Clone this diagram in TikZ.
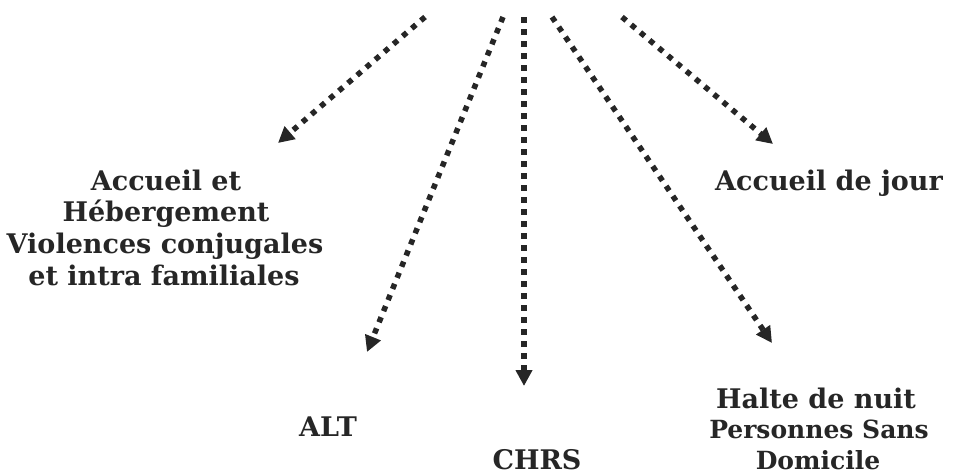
\documentclass[tikz,border=0pt]{standalone}
\usepackage{fontspec}
\setmainfont{DejaVu Serif}
\usetikzlibrary{arrows.meta}
\definecolor{ink}{HTML}{262626}
\tikzset{
  lbl/.style={font=\fontsize{27}{31}\selectfont\bfseries, text=ink, align=center, inner sep=0pt, anchor=base},
  lblsm/.style={font=\fontsize{25}{31}\selectfont\bfseries, text=ink, align=center, inner sep=0pt, anchor=base},
  dotarrow/.style={draw=ink, line width=5.5pt, line cap=butt, dash pattern=on 5.5pt off 6.5pt,
    -{Triangle[length=16pt,width=16pt]}}
}
\begin{document}
\begin{tikzpicture}[x=1pt,y=-1pt]
\useasboundingbox (0,0) rectangle (956,475);
% labels
\node[lbl] (a1) at (166,190) {Accueil et};
\node[lbl] (a2) at (166,221) {Hébergement};
\node[lbl] (a3) at (165,253) {Violences conjugales};
\node[lbl] (a4) at (164,285) {et intra familiales};
\node[lbl] (alt) at (328,436) {ALT};
\node[lbl] (chrs) at (537,469) {CHRS};
\node[lbl] (jour) at (829,190) {Accueil de jour};
\node[lbl] (h1) at (816,408) {Halte de nuit};
\node[lblsm] (h2) at (819,438) {Personnes Sans};
\node[lblsm] (h3) at (818,469) {Domicile};
% start and end points
\coordinate (s1) at (425,17);
\coordinate (s2) at (503,17);
\coordinate (s3) at (524,17);
\coordinate (s4) at (552,17);
\coordinate (s5) at (622,17);
\coordinate (t1) at (278,143);
\coordinate (t2) at (367,352);
\coordinate (t3) at (524,386);
\coordinate (t4) at (772,343);
\coordinate (t5) at (773,144);
\draw[dotarrow] (s1) -- (t1);
\draw[dotarrow] (s2) -- (t2);
\draw[dotarrow] (s3) -- (t3);
\draw[dotarrow] (s4) -- (t4);
\draw[dotarrow] (s5) -- (t5);
\end{tikzpicture}
\end{document}
